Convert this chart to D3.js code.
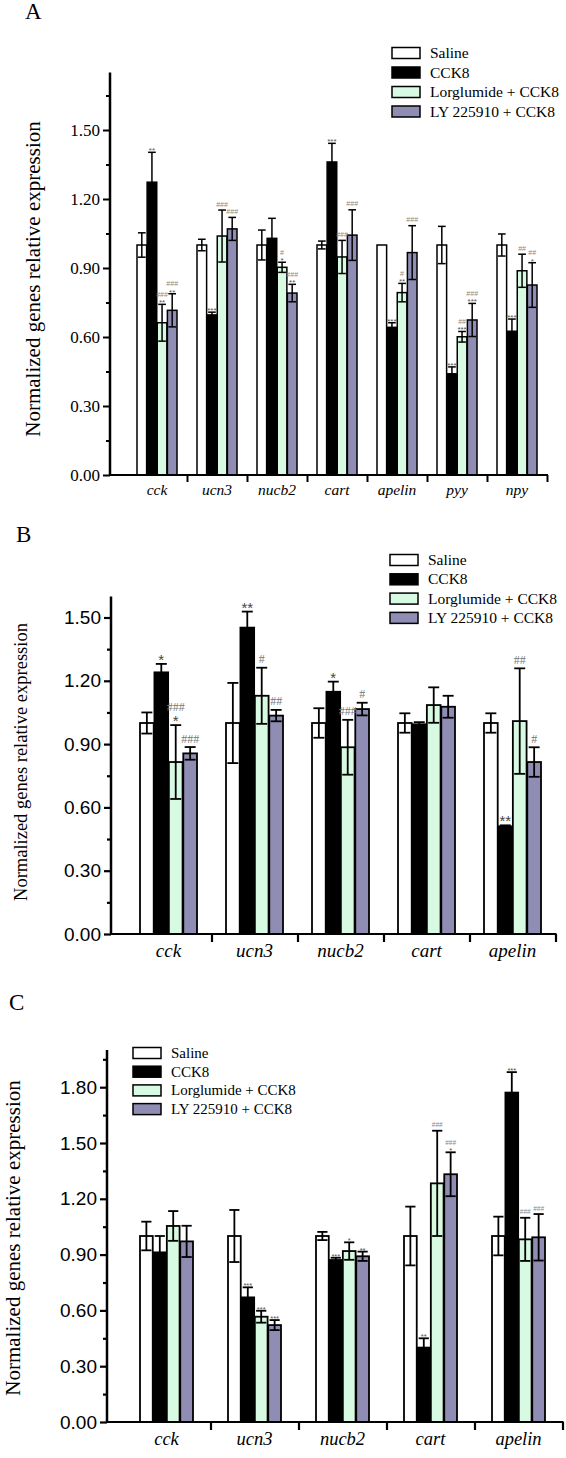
<!DOCTYPE html>
<html><head><meta charset="utf-8">
<script src="https://cdn.jsdelivr.net/npm/d3@7"></script>
<style>body{margin:0;background:#fff}</style>
</head><body>
<svg id="c" width="566" height="1458" xmlns="http://www.w3.org/2000/svg"></svg>
<script>
// ---------- shared ----------
const seriesNames = ["Saline", "CCK8", "Lorglumide + CCK8", "LY 225910 + CCK8"];
const seriesFills = ["#ffffff", "#000000", "#d9fae2", "#8f8db3"];
const yLabelText = "Normalized genes relative expression";

// ---------- Panel A ----------
const categoriesA = ["cck", "ucn3", "nucb2", "cart", "apelin", "pyy", "npy"];
const salineA    = [1.00, 1.00, 1.00, 1.00, 1.00, 1.00, 1.00];
const salineErrA = [0.053, 0.025, 0.065, 0.017, 0.000, 0.081, 0.048];
const cck8A      = [1.273, 0.696, 1.029, 1.361, 0.642, 0.440, 0.625];
const cck8ErrA   = [0.130, 0.012, 0.087, 0.081, 0.020, 0.030, 0.053];
const lorgA      = [0.662, 1.039, 0.903, 0.948, 0.793, 0.601, 0.888];
const lorgErrA   = [0.080, 0.113, 0.022, 0.072, 0.040, 0.023, 0.072];
const lyA        = [0.716, 1.070, 0.791, 1.043, 0.967, 0.674, 0.826];
const lyErrA     = [0.072, 0.050, 0.038, 0.110, 0.117, 0.072, 0.097];
const starsA = [
  ["", "", "", "", "", "", ""],
  ["**", "***", "", "***", "***", "***", "***"],
  ["**", "", "*", "", "**", "***", ""],
  ["**", "", "**", "", "", "***", "*"]
];
const hashA = [
  ["", "", "", "", "", "", ""],
  ["", "", "", "", "", "", ""],
  ["###", "###", "#", "###", "#", "##", "##"],
  ["###", "###", "###", "###", "###", "###", "##"]
];
const yTicksA = [0, 0.3, 0.6, 0.9, 1.2, 1.5];
const yMinorA = [0.15, 0.45, 0.75, 1.05, 1.35, 1.65];

// ---------- Panel B ----------
const categoriesB = ["cck", "ucn3", "nucb2", "cart", "apelin"];
const salineB    = [1.00, 1.00, 1.00, 1.00, 1.00];
const salineErrB = [0.050, 0.190, 0.070, 0.046, 0.046];
const cck8B      = [1.240, 1.452, 1.148, 0.994, 0.510];
const cck8ErrB   = [0.040, 0.076, 0.048, 0.010, 0.005];
const lorgB      = [0.815, 1.129, 0.885, 1.085, 1.009];
const lorgErrB   = [0.175, 0.133, 0.130, 0.084, 0.250];
const lyB        = [0.856, 1.035, 1.066, 1.077, 0.815];
const lyErrB     = [0.030, 0.027, 0.030, 0.052, 0.070];
const starsB = [
  ["", "", "", "", ""],
  ["*", "**", "*", "", "**"],
  ["*", "", "", "", ""],
  ["", "", "", "", ""]
];
const hashB = [
  ["", "", "", "", ""],
  ["", "", "", "", ""],
  ["###", "#", "###", "", "##"],
  ["###", "##", "#", "", "#"]
];
const yTicksB = [0, 0.3, 0.6, 0.9, 1.2, 1.5];
const yMinorB = [0.15, 0.45, 0.75, 1.05, 1.35];

// ---------- Panel C ----------
const categoriesC = ["cck", "ucn3", "nucb2", "cart", "apelin"];
const salineC    = [1.00, 1.00, 1.00, 1.00, 1.00];
const salineErrC = [0.077, 0.140, 0.022, 0.158, 0.104];
const cck8C      = [0.912, 0.670, 0.871, 0.400, 1.771];
const cck8ErrC   = [0.088, 0.054, 0.012, 0.050, 0.110];
const lorgC      = [1.054, 0.566, 0.919, 1.283, 0.982];
const lorgErrC   = [0.080, 0.032, 0.047, 0.283, 0.116];
const lyC        = [0.971, 0.521, 0.891, 1.332, 0.993];
const lyErrC     = [0.084, 0.027, 0.025, 0.118, 0.125];
const starsC = [
  ["", "", "", "", ""],
  ["", "***", "***", "**", "***"],
  ["", "***", "*", "", ""],
  ["", "***", "**", "*", ""]
];
const hashC = [
  ["", "", "", "", ""],
  ["", "", "", "", ""],
  ["", "", "", "###", "###"],
  ["", "", "", "###", "###"]
];
const yTicksC = [0, 0.3, 0.6, 0.9, 1.2, 1.5, 1.8];
const yMinorC = [0.15, 0.45, 0.75, 1.05, 1.35, 1.65, 1.95];

const SERIF = "'Liberation Serif','Times New Roman',serif";
const SANS = "'Liberation Sans',Arial,sans-serif";

const svg = d3.select("#c");
svg.append("rect").attr("width", 566).attr("height", 1458).attr("fill", "#fff");

function drawPanel(p, d) {
  const g = svg.append("g");
  const n = d.cats.length;
  const x = d3.scaleBand().domain(d.cats).range([p.bandStart, p.bandEnd]);
  const xb = d3.scaleLinear().domain([0, n]).range([p.bandStart, p.bandEnd]);
  const y = d3.scaleLinear().domain([0, p.yMax]).range([p.yBottom, p.yTop]);
  const x1 = d3.scaleBand().domain(d3.range(4)).range([0, p.groupW]).paddingInner(0.05);
  const bw = x1.bandwidth();
  const off = (x.bandwidth() - p.groupW) / 2;

  const bars = [];
  d.values.forEach((vals, s) => vals.forEach((v, i) => {
    bars.push({s, i, v, e: d.errs[s][i], st: d.stars[s][i], h: d.hash[s][i],
      x: x(d.cats[i]) + off + x1(s)});
  }));

  g.selectAll("rect.bar").data(bars).join("rect").attr("class", "bar")
    .attr("x", b => b.x).attr("y", b => y(b.v))
    .attr("width", bw).attr("height", b => y(0) - y(b.v))
    .attr("fill", b => seriesFills[b.s]).attr("stroke", "#000").attr("stroke-width", p.barStroke);

  // error bars
  const cap = bw * 0.8;
  const eb = g.selectAll("g.err").data(bars.filter(b => b.e > 0)).join("g").attr("class", "err")
    .attr("stroke", "#000").attr("stroke-width", p.errStroke);
  eb.append("line").attr("x1", b => b.x + bw / 2).attr("x2", b => b.x + bw / 2)
    .attr("y1", b => y(b.v - b.e)).attr("y2", b => y(b.v + b.e));
  eb.append("line").attr("x1", b => b.x + bw / 2 - cap / 2).attr("x2", b => b.x + bw / 2 + cap / 2)
    .attr("y1", b => y(b.v + b.e)).attr("y2", b => y(b.v + b.e));
  eb.append("line").attr("x1", b => b.x + bw / 2 - cap / 2).attr("x2", b => b.x + bw / 2 + cap / 2)
    .attr("y1", b => y(b.v - b.e)).attr("y2", b => y(b.v - b.e));

  // significance marks
  bars.forEach(b => {
    const top = y(b.v + b.e);
    const cx = b.x + bw / 2;
    if (b.st) {
      g.append("text").attr("x", cx).attr("y", top + p.starOff).attr("text-anchor", "middle")
        .attr("font-family", p.starFont).attr("font-size", p.starSize).attr("fill", p.starColor).text(b.st);
    }
    if (b.h) {
      g.append("text").attr("x", cx).attr("y", top - (b.st ? p.hashOff2 : p.hashOff1)).attr("text-anchor", "middle")
        .attr("font-family", p.hashFont).attr("font-size", p.hashSize).attr("fill", p.hashColor).text(b.h);
    }
  });

  // y axis
  const ya = g.append("g").attr("transform", `translate(${p.x0},0)`)
    .call(d3.axisLeft(y).tickValues(d.yTicks).tickSize(p.majorLen).tickSizeOuter(0).tickPadding(3).tickFormat(d3.format(".2f")));
  ya.select(".domain").attr("stroke-width", p.axisStroke).attr("d", `M0,${y(0)}V${y(p.yMax)}`);
  ya.selectAll(".tick line").attr("stroke-width", p.tickStroke);
  ya.selectAll(".tick text").attr("font-family", p.tickFont).attr("font-size", p.tickSize).attr("fill", "#000");
  const ym = g.append("g").attr("transform", `translate(${p.x0},0)`)
    .call(d3.axisLeft(y).tickValues(d.yMinor).tickSize(p.minorLen).tickFormat(""));
  ym.select(".domain").remove();
  ym.selectAll(".tick line").attr("stroke-width", p.tickStroke);

  // x axis
  g.append("line").attr("x1", p.x0 - 1).attr("x2", p.bandEnd + 1).attr("y1", y(0)).attr("y2", y(0))
    .attr("stroke", "#000").attr("stroke-width", p.xAxisStroke);
  const xt = g.append("g").attr("transform", `translate(0,${y(0)})`)
    .call(d3.axisBottom(xb).tickValues(d3.range(1, n + 1)).tickSize(p.xTickLen).tickFormat(""));
  xt.select(".domain").remove();
  xt.selectAll(".tick line").attr("stroke-width", p.tickStroke);
  const xl = g.append("g").attr("transform", `translate(0,${y(0)})`)
    .call(d3.axisBottom(x).tickSize(0).tickPadding(p.catPad));
  xl.select(".domain").remove();
  xl.selectAll(".tick text").attr("font-family", SERIF).attr("font-style", "italic")
    .attr("font-size", p.catSize).attr("fill", "#000");

  // y label
  g.append("text").attr("transform", `translate(${p.labelX},${p.labelY}) rotate(-90)`)
    .attr("text-anchor", "middle").attr("font-family", SERIF).attr("font-size", p.labelSize)
    .text(yLabelText);

  // panel letter
  g.append("text").attr("x", p.letterX).attr("y", p.letterY).attr("font-family", SERIF)
    .attr("font-size", 23).text(p.letter);

  // legend
  const lg = g.append("g");
  seriesNames.forEach((nm, s) => {
    const cy = p.legY + s * p.legDy;
    lg.append("rect").attr("x", p.legX).attr("y", cy - 5.5).attr("width", 28).attr("height", 11)
      .attr("fill", seriesFills[s]).attr("stroke", "#000").attr("stroke-width", 1.5);
    lg.append("text").attr("x", p.legX + 38).attr("y", cy + 5).attr("font-family", SERIF)
      .attr("font-size", p.legSize).text(nm);
  });
}

drawPanel({
  x0: 110, bandStart: 127, bandEnd: 547, yBottom: 475, yTop: 72.5, yMax: 1.75, groupW: 40,
  barStroke: 1.5, errStroke: 1.5, axisStroke: 2.5, xAxisStroke: 2, tickStroke: 2,
  majorLen: 7, minorLen: 4, xTickLen: 7,
  tickFont: SERIF, tickSize: 17, catSize: 15.5, catPad: 9,
  labelX: 40, labelY: 279, labelSize: 21,
  letter: "A", letterX: 25, letterY: 19,
  legX: 392, legY: 53, legDy: 19.5, legSize: 15.5,
  starFont: SANS, starSize: 8, starOff: 1, starColor: "#555",
  hashFont: SANS, hashSize: 7, hashOff1: 3.5, hashOff2: 7.5, hashColor: "#888"
}, {cats: categoriesA, values: [salineA, cck8A, lorgA, lyA], errs: [salineErrA, cck8ErrA, lorgErrA, lyErrA],
    stars: starsA, hash: hashA, yTicks: yTicksA, yMinor: yMinorA});

drawPanel({
  x0: 111, bandStart: 125.5, bandEnd: 555.5, yBottom: 934, yTop: 596.4, yMax: 1.6, groupW: 57,
  barStroke: 1.8, errStroke: 1.8, axisStroke: 2.5, xAxisStroke: 2.2, tickStroke: 2.2,
  majorLen: 7, minorLen: 4, xTickLen: 8,
  tickFont: SANS, tickSize: 19, catSize: 19, catPad: 10,
  labelX: 27, labelY: 762, labelSize: 18.5,
  letter: "B", letterX: 16, letterY: 542,
  legX: 390, legY: 560, legDy: 19.3, legSize: 15.5,
  starFont: SANS, starSize: 15, starOff: 1, starColor: "#444",
  hashFont: SERIF, hashSize: 12, hashOff1: 4.5, hashOff2: 14, hashColor: "#777"
}, {cats: categoriesB, values: [salineB, cck8B, lorgB, lyB], errs: [salineErrB, cck8ErrB, lorgErrB, lyErrB],
    stars: starsB, hash: hashB, yTicks: yTicksB, yMinor: yMinorB});

drawPanel({
  x0: 107, bandStart: 122.5, bandEnd: 562.5, yBottom: 1422, yTop: 1050, yMax: 2.0, groupW: 53,
  barStroke: 1.8, errStroke: 1.8, axisStroke: 2.5, xAxisStroke: 2.2, tickStroke: 2.2,
  majorLen: 7, minorLen: 4, xTickLen: 8,
  tickFont: SANS, tickSize: 19, catSize: 18.5, catPad: 10,
  labelX: 20, labelY: 1238, labelSize: 21,
  letter: "C", letterX: 9, letterY: 1010,
  legX: 133, legY: 1053, legDy: 18.7, legSize: 15,
  starFont: SANS, starSize: 7.5, starOff: 1, starColor: "#555",
  hashFont: SANS, hashSize: 6.5, hashOff1: 3.5, hashOff2: 7.5, hashColor: "#888"
}, {cats: categoriesC, values: [salineC, cck8C, lorgC, lyC], errs: [salineErrC, cck8ErrC, lorgErrC, lyErrC],
    stars: starsC, hash: hashC, yTicks: yTicksC, yMinor: yMinorC});
</script>
</body></html>
